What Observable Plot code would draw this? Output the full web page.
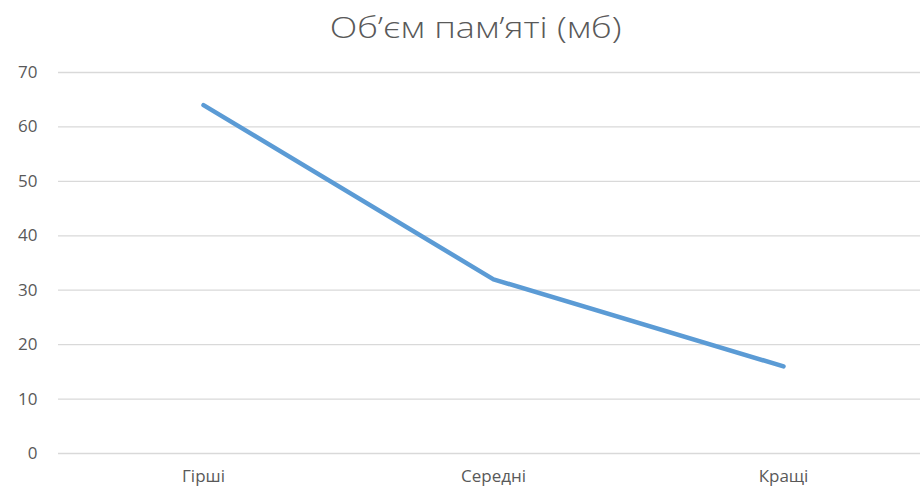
<!DOCTYPE html>
<html>
<head>
<meta charset="utf-8">
<script src="https://cdn.jsdelivr.net/npm/d3@7"></script>
<script src="https://cdn.jsdelivr.net/npm/@observablehq/plot@0.6"></script>
<style>
  html, body { margin: 0; padding: 0; background: #fff; overflow: hidden; width: 920px; height: 495px; }
  #title { height: 50px; width: 920px; text-align: center; color: #595959; font-family: "Open Sans", sans-serif; font-weight: 300; font-size: 30px; line-height: 54px; white-space: nowrap; }
  #title span { display: inline-block; transform: translateX(16px) scaleX(1.2); transform-origin: center; }
  #chart svg { display: block; max-width: none !important; }
</style>
</head>
<body>
<div id="title"><span>Об’єм пам’яті (мб)</span></div>
<div id="chart"></div>
<script>
// Memory usage by case
const categories = ["Гірші", "Середні", "Кращі"];
const memory = [64, 32, 16];
const yTicks = [0, 10, 20, 30, 40, 50, 60, 70];

const data = categories.map((c, i) => ({category: c, value: memory[i]}));

const chart = Plot.plot({
  width: 928,
  height: 445,
  marginTop: 22,
  marginBottom: 42,
  marginLeft: 58,
  marginRight: 0,
  style: {fontFamily: "Open Sans, sans-serif", fontSize: "17px", color: "#595959", background: "#fff"},
  x: {type: "point", domain: categories, padding: 0.5, label: null},
  y: {domain: [0, 70], ticks: yTicks, label: null},
  marks: [
    Plot.ruleY(yTicks, {stroke: "#d9d9d9", strokeWidth: 1.3}),
    Plot.axisY({ticks: yTicks, tickSize: 0, tickPadding: 21, label: null, fill: "#595959"}),
    Plot.axisX({tickSize: 0, tickPadding: 16, label: null, fill: "#595959"}),
    Plot.line(data, {x: "category", y: "value", stroke: "#5b9bd5", strokeWidth: 4.5, strokeLinecap: "round", strokeLinejoin: "round"})
  ]
});
document.getElementById("chart").appendChild(chart);
</script>
</body>
</html>
